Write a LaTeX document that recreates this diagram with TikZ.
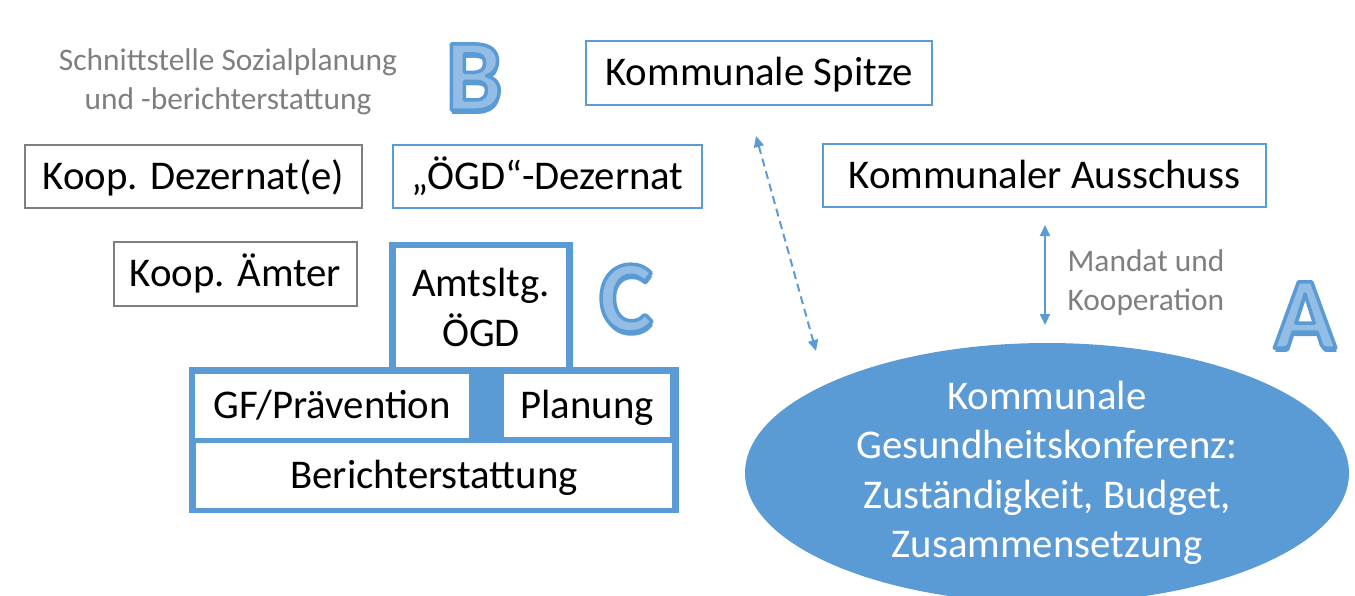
\documentclass[tikz,border=0pt]{standalone}
\usepackage{fontspec}
\setmainfont{Carlito}
\usepackage{tikz}
\usetikzlibrary{arrows.meta,shapes.geometric}

\definecolor{ablue}{HTML}{5B9BD5}
\definecolor{alight}{HTML}{93BDE4}
\definecolor{agray}{HTML}{7F7F7F}
\newcommand{\boxfont}{\fontsize{40.8}{49.5}\selectfont}
\newcommand{\notefont}{\fontsize{31.4}{39}\selectfont}
\newcommand{\letterfont}{\fontsize{102}{110}\selectfont\bfseries}
% outlined letter: light fill, blue stroke, blue shadow
\newcommand{\outlined}[1]{%
  \rlap{\kern1.5pt\raisebox{-4pt}{\color{ablue}#1}}%
  {\color{alight}\special{pdf:literal direct 0.357 0.608 0.835 RG 3.5 w 1 j 2 Tr}#1\special{pdf:literal direct 0 Tr}}}

\begin{document}
\begin{tikzpicture}[x=1pt,y=-1pt,
  bluebox/.style={draw=ablue,line width=2pt,inner sep=0pt,outer sep=0pt,font=\boxfont,
    text height=32.6pt,text depth=7.4pt},
  graybox/.style={bluebox,draw=agray},
  frame/.style={fill=ablue,inner sep=0pt,outer sep=0pt},
  cell/.style={fill=white,inner sep=0pt,outer sep=0pt,font=\boxfont,text height=32.6pt,text depth=7.4pt},
  tallcell/.style={fill=white,inner sep=0pt,outer sep=0pt,font=\boxfont,align=center},
  note/.style={text=agray,font=\notefont,align=center,inner sep=0pt},
  letter/.style={font=\letterfont,inner sep=0pt},
  link/.style={ablue,line width=2pt,{Triangle[length=11pt,width=10pt]}-{Triangle[length=11pt,width=10pt]}}]
\useasboundingbox (0,0) rectangle (1355,595);

\node[note] (schnitt) at (228,82) {Schnittstelle Sozialplanung\\und -berichterstattung};
\node[bluebox,minimum width=346pt,minimum height=64pt] (spitze) at (759,73) {Kommunale Spitze};
\node[graybox,minimum width=337pt,minimum height=63pt] (dezernate) at (193.5,176.5) {Koop. Dezernat(e)};
\node[bluebox,minimum width=309pt,minimum height=63pt] (oegddez) at (547.5,176.5) {„ÖGD“-Dezernat};
\node[bluebox,minimum width=443pt,minimum height=63pt] (ausschuss) at (1044.5,175.5) {Kommunaler Ausschuss};
\node[graybox,minimum width=243pt,minimum height=64pt] (aemter) at (235.5,274) {Koop. Ämter};

% ÖGD
\node[frame,minimum width=184pt,minimum height=126pt] (amtframe) at (481,304.5) {};
\node[frame,minimum width=490pt,minimum height=146pt] (lowframe) at (434,440) {};
\node[tallcell,minimum width=170pt,minimum height=119pt] (amt) at (481,307.5) {Amtsltg.\\ÖGD};
\node[cell,minimum width=274pt,minimum height=64pt] (gf) at (332,406) {GF/Prävention};
\node[cell,minimum width=166pt,minimum height=63pt] (plan) at (587,405.5) {Planung};
\node[cell,minimum width=476pt,minimum height=65pt] (bericht) at (434,475.5) {Berichterstattung};

\node[ellipse,fill=ablue,text=white,minimum width=604pt,minimum height=230pt,inner sep=0pt,
  font=\boxfont,align=center] (konferenz) at (1047,473)
  {Kommunale\\Gesundheitskonferenz:\\Zuständigkeit, Budget,\\Zusammensetzung};

\node[note,align=left] (mandat) at (1146,283) {Mandat und\\Kooperation};

\coordinate (dtop) at (756,136);
\coordinate (dbot) at (816,351);
\draw[link,dash pattern=on 8pt off 5pt] (dtop) -- (dbot);
\coordinate (mtop) at (1045,225);
\coordinate (mbot) at (1045,325);
\draw[link] (mtop) -- (mbot);

\node[letter] (letA) at (1305,317) {\outlined{A}};
\node[letter] (letB) at (474,79) {\outlined{B}};
\node[letter] (letC) at (626,300) {\outlined{C}};
\end{tikzpicture}
\end{document}
